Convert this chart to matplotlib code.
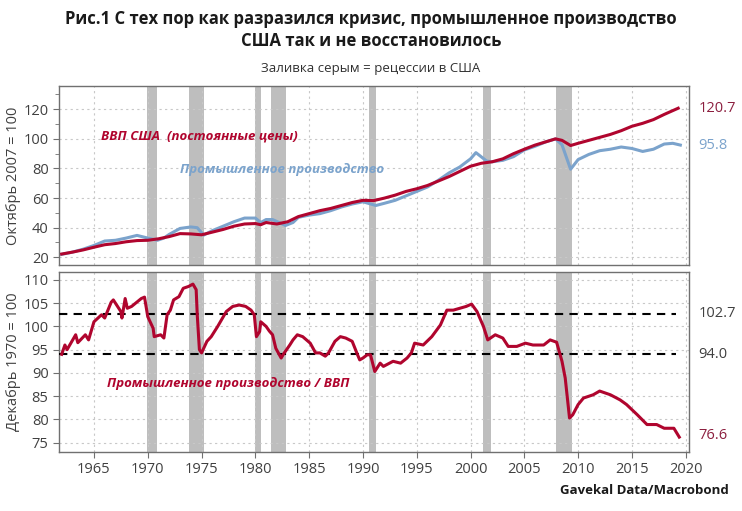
import matplotlib
matplotlib.use("Agg")
import matplotlib.pyplot as plt
from matplotlib.ticker import MultipleLocator

plt.rcParams['font.family'] = ['Open Sans', 'DejaVu Sans']

RED = "#B0052E"
BLUE = "#7BA3CC"
GRAY_TXT = "#404040"

recessions = [(1969.92, 1970.88), (1973.88, 1975.2), (1980.0, 1980.55),
              (1981.5, 1982.88), (1990.55, 1991.2), (2001.2, 2001.88), (2007.92, 2009.45)]

gdp_years = [1962.0, 1963, 1964, 1965, 1966, 1967, 1968, 1969, 1970, 1971, 1972, 1973, 1974, 1975,
             1976, 1977, 1978, 1979, 1980, 1980.5, 1981, 1982, 1983, 1984, 1985, 1986, 1987, 1988,
             1989, 1990, 1991, 1992, 1993, 1994, 1995, 1996, 1997, 1998, 1999, 2000, 2001, 2002,
             2003, 2004, 2005, 2006, 2007, 2007.9, 2008.5, 2009.3, 2010, 2011, 2012, 2013, 2014,
             2015, 2016, 2017, 2018, 2019.3]
gdp_vals = [22.2, 23.5, 25, 26.8, 28.5, 29.3, 30.5, 31.3, 31.5, 32.5, 34, 36, 35.8, 35.2,
            37, 38.8, 41, 42.5, 42.8, 42, 43.5, 42.5, 44, 47.5, 49.5, 51.5, 53, 55,
            57, 58.5, 58.3, 60, 62, 64.5, 66.3, 68.5, 71.5, 74.5, 78, 81.5, 83.5, 84.5,
            86.5, 90, 93, 95.8, 98, 100, 99, 95.5, 97, 99, 101, 103, 105.5,
            108.5, 110.5, 113, 116.5, 120.7]

ip_years = [1962.0, 1963, 1964, 1965, 1966, 1967, 1968, 1969, 1970, 1970.9, 1971.5, 1972, 1973, 1974,
            1974.6, 1975.2, 1976, 1977, 1978, 1979, 1980, 1980.5, 1981, 1981.6, 1982.8, 1983.5, 1984,
            1985, 1986, 1987, 1988, 1989, 1990, 1991.2, 1992, 1993, 1994, 1995, 1996, 1997, 1998,
            1999, 2000, 2000.5, 2001.5, 2002, 2003, 2004, 2005, 2006, 2007, 2007.9, 2008.5, 2009.3,
            2010, 2011, 2012, 2013, 2014, 2015, 2016, 2017, 2018, 2018.8, 2019.5]
ip_vals = [22, 23.5, 25.5, 28, 31, 31.5, 33, 34.8, 33, 31.5, 33, 35.5, 39.5, 40.5,
           40, 35, 38, 41, 44, 46.5, 46.5, 43.5, 45.5, 45.5, 41.5, 43.5, 47,
           48.5, 49.5, 51.5, 54, 56, 57.5, 55, 56.5, 58.5, 61.5, 64.5, 67.5, 72, 77,
           81, 86.5, 90.7, 85, 84.5, 85.5, 88, 92.5, 95, 98, 100, 96, 79.5,
           86, 89.5, 92, 93, 94.5, 93.5, 91.5, 93, 96.5, 97, 95.8]

ratio_years = [1962.0, 1962.3, 1962.5, 1963.3, 1963.5, 1964.2, 1964.5, 1965.0, 1965.7, 1966.0, 1966.6,
               1966.8, 1967.5, 1967.6, 1967.9, 1968.1, 1968.5, 1969.4, 1969.7, 1970.0, 1970.5, 1970.6,
               1971.2, 1971.5, 1971.8, 1972.1, 1972.4, 1972.9, 1973.3, 1973.8, 1974.2, 1974.5, 1974.6,
               1974.8, 1975.0, 1975.5, 1975.9, 1976.5, 1977.3, 1977.9, 1978.5, 1979.1, 1979.6, 1979.9,
               1980.1, 1980.4, 1980.5, 1981.0, 1981.3, 1981.6, 1981.9, 1982.4, 1982.6, 1983.2, 1983.5,
               1983.9, 1984.4, 1985.1, 1985.6, 1986.0, 1986.5, 1986.8, 1987.4, 1987.9, 1988.4, 1989.0,
               1989.5, 1989.7, 1990.0, 1990.4, 1990.7, 1991.1, 1991.6, 1991.9, 1992.8, 1993.5, 1994.1,
               1994.5, 1994.8, 1995.6, 1996.4, 1997.2, 1997.8, 1998.4, 1999.0, 1999.6, 2000.1, 2000.6,
               2001.2, 2001.6, 2002.3, 2003.0, 2003.5, 2004.3, 2005.1, 2005.8, 2006.8, 2007.4, 2008.0,
               2008.5, 2008.8, 2009.2, 2009.5, 2010.0, 2010.5, 2011.4, 2012.0, 2013.0, 2013.9, 2014.5,
               2015.5, 2016.4, 2017.3, 2018.0, 2018.9, 2019.4]
ratio_vals = [94.0, 96.0, 95.0, 98.2, 96.5, 98.2, 97.1, 101.0, 102.5, 101.8, 105.2,
              105.7, 103.2, 101.8, 106.0, 103.9, 104.3, 106.0, 106.3, 102.1, 99.6, 97.8,
              98.2, 97.5, 102.5, 103.5, 105.7, 106.4, 108.2, 108.6, 109.1, 107.9, 102.5,
              95.0, 94.3, 96.8, 97.8, 100.0, 103.2, 104.3, 104.6, 104.3, 103.5, 102.5,
              97.8, 98.9, 101.0, 100.0, 99.0, 98.2, 95.3, 93.2, 94.0, 96.0, 97.1,
              98.2, 97.8, 96.4, 94.3, 94.3, 93.6, 94.3, 96.8, 97.8, 97.5, 96.8,
              93.9, 92.8, 93.2, 93.9, 93.9, 90.3, 92.1, 91.4, 92.5, 92.1, 93.2,
              94.3, 96.4, 96.0, 97.8, 100.3, 103.5, 103.5, 103.9, 104.3, 104.8, 103.2,
              100.0, 97.1, 98.2, 97.5, 95.7, 95.7, 96.4, 96.0, 96.0, 97.1, 96.6,
              92.5, 88.9, 80.3, 81.0, 83.2, 84.6, 85.3, 86.1, 85.3, 84.2, 83.2,
              81.0, 78.9, 78.9, 78.1, 78.1, 76.2]

ref_levels = [102.7, 94.0]
end_labels_top = ["120.7", "95.8"]
end_labels_bottom = ["102.7", "94.0", "76.6"]

fig = plt.figure(figsize=(7.42, 5.11), dpi=100)
ax1 = fig.add_axes([0.0795, 0.4814, 0.849, 0.3503])
ax2 = fig.add_axes([0.0795, 0.1155, 0.849, 0.3522])

xlim = (1961.75, 2020.3)
for ax in (ax1, ax2):
    for a, b in recessions:
        ax.axvspan(a, b, color="#BEBEBE", lw=0, zorder=1)
    ax.set_xlim(*xlim)
    ax.xaxis.set_major_locator(MultipleLocator(5))
    ax.grid(True, color="#C8C8C8", linestyle=(0, (2, 3)), lw=0.8, zorder=0)
    for s in ax.spines.values():
        s.set_color("#707070")
        s.set_linewidth(1.0)
    ax.tick_params(colors="#707070", labelcolor=GRAY_TXT, labelsize=10.5, length=4)

ax1.plot(ip_years, ip_vals, color=BLUE, lw=2.2, zorder=3)
ax1.plot(gdp_years, gdp_vals, color=RED, lw=2.2, zorder=4)
ax1.set_ylim(14.8, 135.7)
ax1.yaxis.set_major_locator(MultipleLocator(20))
ax1.yaxis.set_minor_locator(MultipleLocator(10))
ax1.tick_params(axis="y", which="minor", length=3, colors="#707070")
ax1.tick_params(axis="x", labelbottom=False, length=0)
ax1.set_ylabel("Октябрь 2007 = 100", fontsize=10.5, color=GRAY_TXT, labelpad=2)

ax1.text(1965.7, 102, "ВВП США  (постоянные цены)", color=RED, fontsize=9.5,
         fontweight="bold", fontstyle="italic", va="center", zorder=5)
ax1.text(1973.0, 79, "Промышленное производство", color=BLUE, fontsize=9.5,
         fontweight="bold", fontstyle="italic", va="center", zorder=5)

ax2.plot(ratio_years, ratio_vals, color=RED, lw=2.2, zorder=4)
for lv in ref_levels:
    ax2.axhline(lv, color="black", lw=1.5, linestyle=(0, (4, 3)), xmax=0.98, zorder=3)
ax2.set_ylim(73, 111.7)
ax2.yaxis.set_major_locator(MultipleLocator(5))
ax2.set_ylabel("Декабрь 1970 = 100", fontsize=10.5, color=GRAY_TXT, labelpad=2)
ax2.text(1966.2, 87.7, "Промышленное производство / ВВП", color=RED, fontsize=9.5,
         fontweight="bold", fontstyle="italic", va="center", zorder=5)

# end labels
ax1.text(1.015, (120.7 - 14.8) / (135.7 - 14.8), end_labels_top[0], transform=ax1.transAxes,
         color="#8C1F3F", fontsize=10.5, va="center")
ax1.text(1.015, (95.8 - 14.8) / (135.7 - 14.8), end_labels_top[1], transform=ax1.transAxes,
         color=BLUE, fontsize=10.5, va="center")
for lab, v, c in zip(end_labels_bottom, [102.7, 94.0, 76.6], [GRAY_TXT, GRAY_TXT, "#8C1F3F"]):
    ax2.text(1.015, (v - 73) / (111.7 - 73), lab, transform=ax2.transAxes,
             color=c, fontsize=10.5, va="center")

fig.text(0.5, 0.942, "Рис.1 С тех пор как разразился кризис, промышленное производство\nСША так и не восстановилось",
         ha="center", va="center", fontsize=12, fontweight="bold", color="#1A1A1A", linespacing=1.3)
fig.text(0.5, 0.866, "Заливка серым = рецессии в США", ha="center", va="center",
         fontsize=9.5, color="#303030")
fig.text(0.982, 0.04, "Gavekal Data/Macrobond", ha="right", va="center",
         fontsize=9.5, fontweight="bold", color="#1A1A1A")

fig.savefig("out.png", dpi=100)
